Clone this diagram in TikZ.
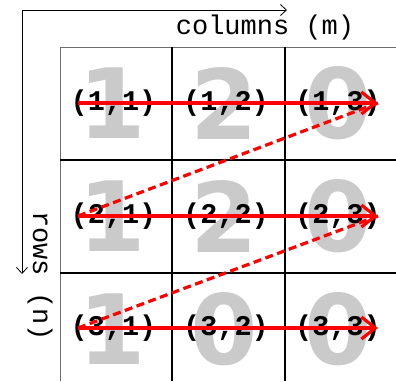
\documentclass[tikz,border=0pt]{standalone}
\usepackage{fontspec}
\setmonofont{Liberation Mono}
\newfontfamily\digitfont{DejaVu Sans}
\usetikzlibrary{arrows.meta}
\definecolor{biggray}{RGB}{202,202,202}
\definecolor{edgegray}{RGB}{110,110,110}
\tikzset{
  bigdigit/.style={inner sep=0pt, text=biggray, font=\digitfont\bfseries\fontsize{97}{97}\selectfont},
  celllabel/.style={inner sep=0pt, font=\ttfamily\bfseries\fontsize{28.5}{28.5}\selectfont},
  axislabel/.style={inner sep=0pt, font=\ttfamily\fontsize{27}{27}\selectfont},
  innerline/.style={line width=1.5pt, black},
  outerline/.style={line width=0.8pt, edgegray},
  rowarrow/.style={line width=3.2pt, red, -{Straight Barb[length=14pt,width=22pt,line width=3.2pt]}},
  jumparrow/.style={line width=3.2pt, red, dash pattern=on 8pt off 4.5pt},
  axisarrow/.style={line width=0.8pt, black, -{Straight Barb[length=6pt,width=11pt,line width=0.8pt]}}
}
\begin{document}
\begin{tikzpicture}[x=1pt,y=-1pt]
\useasboundingbox (0,0) rectangle (396,381);
% big digits
\node[bigdigit] (d11) at (112,103) {1};
\node[bigdigit] (d12) at (224,103) {2};
\node[bigdigit] (d13) at (338,103) {0};
\node[bigdigit] (d21) at (112,216) {1};
\node[bigdigit] (d22) at (224,216) {2};
\node[bigdigit] (d23) at (338,216) {0};
\node[bigdigit] (d31) at (112,329) {1};
\node[bigdigit] (d32) at (224,329) {0};
\node[bigdigit] (d33) at (338,329) {0};
% grid
\draw[outerline] (60,381) -- (60,47) -- (396,47);
\draw[innerline] (172,47) -- (172,381);
\draw[innerline] (285,47) -- (285,381);
\draw[innerline] (60,160) -- (396,160);
\draw[innerline] (60,273) -- (396,273);
% labels
\node[celllabel] (l11) at (113.5,103) {(1,1)};
\node[celllabel] (l12) at (226,103) {(1,2)};
\node[celllabel] (l13) at (338,103) {(1,3)};
\node[celllabel] (l21) at (113.5,216) {(2,1)};
\node[celllabel] (l22) at (226,216) {(2,2)};
\node[celllabel] (l23) at (338,216) {(2,3)};
\node[celllabel] (l31) at (113.5,328) {(3,1)};
\node[celllabel] (l32) at (226,328) {(3,2)};
\node[celllabel] (l33) at (338,328) {(3,3)};
% axes
\coordinate (o) at (22,10);
\coordinate (ax) at (287,10);
\coordinate (ay) at (22,274);
\draw[axisarrow] (o) -- (ax);
\draw[axisarrow] (o) -- (ay);
\node[axislabel] (cols) at (265,28) {columns (m)};
\node[axislabel, rotate=-90] (rows) at (40,276) {rows (n)};
% red path
\coordinate (s1) at (78,103);
\coordinate (e1) at (378,103);
\coordinate (s2) at (78,216);
\coordinate (e2) at (378,216);
\coordinate (s3) at (78,328);
\coordinate (e3) at (378,328);
\draw[jumparrow] (s2) -- (e1);
\draw[jumparrow] (s3) -- (e2);
\draw[rowarrow] (s1) -- (e1);
\draw[rowarrow] (s2) -- (e2);
\draw[rowarrow] (s3) -- (e3);
\end{tikzpicture}
\end{document}
